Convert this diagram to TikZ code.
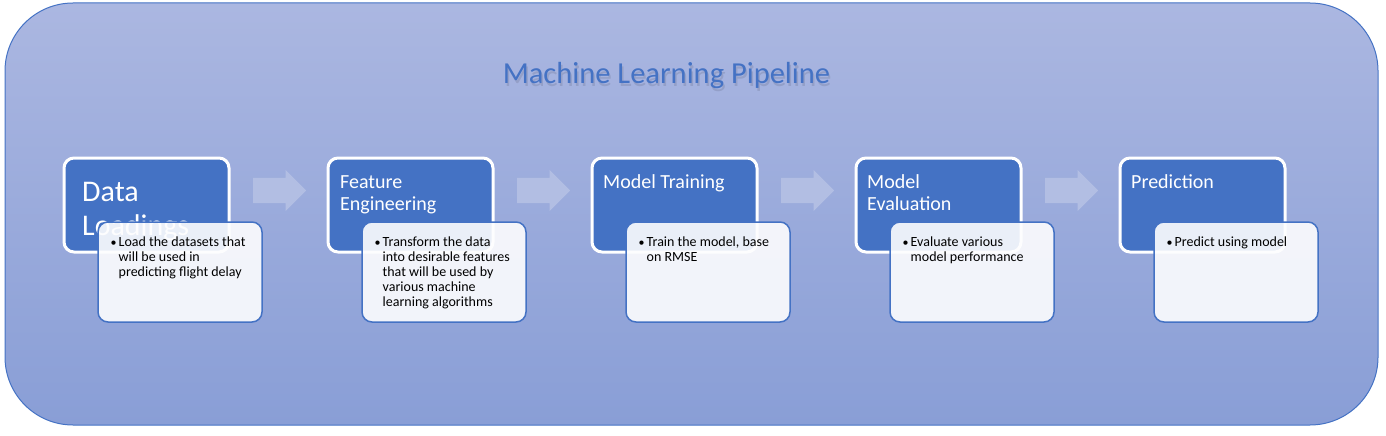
\documentclass[tikz,border=0pt]{standalone}
\usepackage{fontspec}
\setmainfont{Carlito}
\usetikzlibrary{shapes.arrows}
\definecolor{mlblue}{RGB}{68,114,196}
\definecolor{bgtop}{RGB}{171,183,225}
\definecolor{bgbot}{RGB}{137,158,214}
\definecolor{arrowc}{RGB}{178,190,227}
\definecolor{lightfill}{RGB}{253,253,254}
\newcommand\mlstage[4]{%
  % #1 index, #2 dx, #3 title node, #4 bullet lines
  \node[darkbox] (dark#1) at (146.5+#2,205) {};
  #3
  \node[lightbox] (light#1) at (180+#2,272) {};
  \node[bul] (bul#1) at (110.5+#2,246) {\textbullet};
  \node[bultext] (txt#1) at (118.5+#2,246) {\vtop{#4}};
}
\begin{document}
\begin{tikzpicture}[x=1pt,y=-1pt,
  darkbox/.style={rectangle,rounded corners=10pt,minimum width=165pt,minimum height=94pt,fill=mlblue,draw=white,line width=3pt,inner sep=0pt},
  lightbox/.style={rectangle,rounded corners=10pt,minimum width=164pt,minimum height=100pt,fill=lightfill,fill opacity=0.9,draw=mlblue,line width=1.5pt,inner sep=0pt},
  bul/.style={anchor=base west,inner sep=0pt,font=\fontsize{12}{15}\selectfont},
  bultext/.style={anchor=base west,inner sep=0pt,font=\fontsize{14}{15}\selectfont},
  stagetitle/.style={anchor=base west,inner sep=0pt,text=white,font=\fontsize{20}{22}\selectfont},
  flow/.style={single arrow,minimum height=53pt,single arrow head extend=8pt,inner xsep=0pt,inner ysep=12.5pt,fill=arrowc,draw=none,anchor=west}
]
\useasboundingbox (0,0) rectangle (1386,436);
\shade[top color=bgtop,bottom color=bgbot,draw=mlblue,line width=1pt,rounded corners=68pt] (5,3) rectangle (1378,425);
\node[anchor=base,inner sep=0pt,text=black,text opacity=0.1,font=\fontsize{30.5}{34}\selectfont] (titleshadow) at (668,86) {Machine Learning Pipeline};
\node[anchor=base,inner sep=0pt,text=mlblue,font=\fontsize{30.5}{34}\selectfont] (title) at (666.5,84) {Machine Learning Pipeline};

\mlstage{1}{0}{\node[stagetitle,font=\fontsize{30}{34}\selectfont] (head1) at (82,201) {\vtop{\hbox{Data}\hbox{Loadings}}};}{\hbox{Load the datasets that}\hbox{will be used in}\hbox{predicting flight delay}}
\mlstage{2}{264}{\node[stagetitle] (head2) at (340,188) {\vtop{\hbox{Feature}\hbox{Engineering}}};}{\hbox{Transform the data}\hbox{into desirable features}\hbox{that will be used by}\hbox{various machine}\hbox{learning algorithms}}
\mlstage{3}{528}{\node[stagetitle] (head3) at (603,188) {Model Training};}{\hbox{Train the model, base}\hbox{on RMSE}}
\mlstage{4}{792}{\node[stagetitle] (head4) at (867,188) {\vtop{\hbox{Model}\hbox{Evaluation}}};}{\hbox{Evaluate various}\hbox{model performance}}
\mlstage{5}{1056}{\node[stagetitle] (head5) at (1131,188) {Prediction};}{\hbox{Predict using model}}

\node[flow] (arr1) at (253,190.5) {};
\node[flow] (arr2) at (517,190.5) {};
\node[flow] (arr3) at (781,190.5) {};
\node[flow] (arr4) at (1045,190.5) {};
\end{tikzpicture}
\end{document}
